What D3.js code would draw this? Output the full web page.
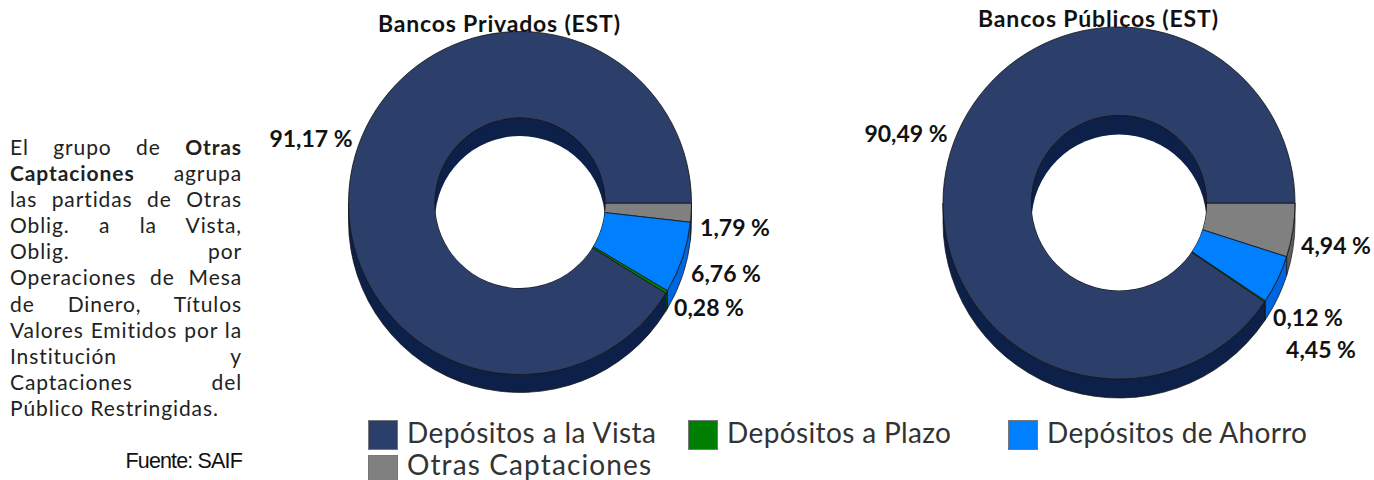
<!DOCTYPE html>
<html>
<head>
<meta charset="utf-8">
<script src="https://cdn.jsdelivr.net/npm/d3@7"></script>
<style>
html, body { margin: 0; padding: 0; background: #fff; overflow: hidden; }
svg { position: absolute; left: 0; top: 0; }
text { font-family: Lato, sans-serif; }
.note { position: absolute; left: 10px; width: 232px; font: 21px/26.1px Lato, sans-serif; letter-spacing: 0.9px; color: #222; }
.note div { text-align: justify; text-align-last: justify; height: 26.1px; white-space: nowrap; }
.note div.last { text-align-last: left; }
.source { position: absolute; left: 10px; width: 232px; top: 449px; text-align: right; font: 21.5px "Liberation Sans", sans-serif; letter-spacing: -0.85px; color: #111; }
</style>
</head>
<body>
<svg width="1374" height="480"></svg>
<script>
var categories = ["Otras Captaciones", "Depósitos de Ahorro", "Depósitos a Plazo", "Depósitos a la Vista"];
var privados = [1.79, 6.76, 0.28, 91.17];
var publicos = [4.94, 4.45, 0.12, 90.49];
var labelsPrivados = ["1,79 %", "6,76 %", "0,28 %", "91,17 %"];
var labelsPublicos = ["4,94 %", "4,45 %", "0,12 %", "90,49 %"];
var legendOrder = ["Depósitos a la Vista", "Depósitos a Plazo", "Depósitos de Ahorro", "Otras Captaciones"];
var noteLines = [
    ["El grupo de ", "<b>Otras</b>"],
    ["<b>Captaciones</b>", " agrupa"],
    ["las partidas de Otras"],
    ["Oblig. a la Vista,"],
    ["Oblig. por"],
    ["Operaciones de Mesa"],
    ["de Dinero, Títulos"],
    ["Valores Emitidos por la"],
    ["Institución y"],
    ["Captaciones del"],
    ["Público Restringidas."]
];

var svg = d3.select("svg");

var color = d3.scaleOrdinal().domain(categories).range(["#808080", "#0080ff", "#008000", "#2c3f6b"]);
var sideColor = d3.scaleOrdinal().domain(categories).range(["#5e5e5e", "#0066e0", "#005a00", "#0d2049"]);

var pie = d3.pie().sort(null).startAngle(Math.PI / 2).endAngle(Math.PI / 2 + 2 * Math.PI);

// radial label spots are off by too much for the thin slices, so they sit by hand
var charts = [
    {title: "Bancos Privados (EST)", tx: 499, ty: 32, titleWidth: 242, cx: 520, cy: 203, r: 171.5, ri: 85, depth: 18,
        values: privados, labels: labelsPrivados,
        spots: [[735, 236], [726, 282], [709, 316], [311, 147]]},
    {title: "Bancos Públicos (EST)", tx: 1098, ty: 27, titleWidth: 240, cx: 1119, cy: 203, r: 176, ri: 87.5, depth: 19,
        values: publicos, labels: labelsPublicos,
        spots: [[1336, 254], [1321, 358], [1308, 326], [906, 142]]}
];

function drawDonut(c, i) {
    var g = svg.append("g").attr("transform", "translate(" + c.cx + "," + c.cy + ")");
    var slices = pie(c.values);
    var arc = d3.arc().innerRadius(c.ri).outerRadius(c.r);

    // outer wall, only the part that faces down is visible
    g.selectAll(".wall")
        .data(slices)
        .enter().append("path")
        .attr("class", "wall")
        .attr("fill", function(d, j) { return sideColor(categories[j]); })
        .attr("stroke", "#111")
        .attr("stroke-width", 0.7)
        .attr("d", function(d) {
            // d3 pie angles start at 12 o'clock, canvas ones at 3 o'clock
            var a0 = d.startAngle - Math.PI / 2,
                a1 = Math.min(d.endAngle - Math.PI / 2, Math.PI);
            var p = d3.path();
            p.arc(0, 0, c.r, a0, a1, false);
            p.arc(0, c.depth, c.r, a1, a0, true);
            p.closePath();
            return p.toString();
        });

    // top face
    g.selectAll(".slice")
        .data(slices)
        .enter().append("path")
        .attr("class", "slice")
        .attr("fill", function(d, j) { return color(categories[j]); })
        .attr("stroke", "#111")
        .attr("stroke-width", 0.8)
        .attr("d", arc);

    // hole: inner wall first, then the see-through part
    g.append("clipPath")
        .attr("id", "hole" + i)
        .append("circle")
        .attr("r", c.ri);
    g.append("circle")
        .attr("r", c.ri)
        .attr("fill", sideColor("Depósitos a la Vista"))
        .attr("stroke", "#111")
        .attr("stroke-width", 0.8);
    g.append("circle")
        .attr("cy", c.depth)
        .attr("r", c.ri)
        .attr("fill", "#fff")
        .attr("clip-path", "url(#hole" + i + ")");

    svg.append("text")
        .attr("x", c.tx)
        .attr("y", c.ty)
        .attr("text-anchor", "middle")
        .attr("textLength", c.titleWidth)
        .style("font-size", "23px")
        .style("font-weight", "700")
        .attr("fill", "#111")
        .text(c.title);

    svg.selectAll(".lab" + i)
        .data(c.labels)
        .enter().append("text")
        .attr("class", "lab" + i)
        .attr("x", function(d, j) { return c.spots[j][0]; })
        .attr("y", function(d, j) { return c.spots[j][1]; })
        .attr("text-anchor", "middle")
        .style("font-size", "23px")
        .style("font-weight", "700")
        .attr("fill", "#111")
        .text(function(d) { return d; });
}

charts.forEach(drawDonut);

// legend
var legendSpots = [[368, 420, 249, 23], [688, 420, 224, 23], [1008, 420, 260, 23], [368, 455, 244, 20]];
var legend = svg.selectAll(".legend")
    .data(legendOrder)
    .enter().append("g")
    .attr("class", "legend")
    .attr("transform", function(d, j) { return "translate(" + legendSpots[j][0] + "," + legendSpots[j][1] + ")"; });

legend.append("rect")
    .attr("x", 0.5)
    .attr("y", 0.5)
    .attr("width", 29)
    .attr("height", 29)
    .attr("fill", function(d) { return color(d); })
    .attr("stroke", "#777");

legend.append("text")
    .attr("x", 39)
    .attr("y", function(d, j) { return legendSpots[j][3]; })
    .attr("textLength", function(d, j) { return legendSpots[j][2]; })
    .style("font-size", "28px")
    .attr("fill", "#333")
    .text(function(d) { return d; });

// side note
d3.select("body").append("div")
    .attr("class", "note")
    .style("top", "134px")
    .selectAll("div")
    .data(noteLines)
    .enter().append("div")
    .classed("last", function(d, j) { return j == noteLines.length - 1; })
    .html(function(d) { return d.join(""); });

d3.select("body").append("div")
    .attr("class", "source")
    .text("Fuente: SAIF");
</script>
</body>
</html>
